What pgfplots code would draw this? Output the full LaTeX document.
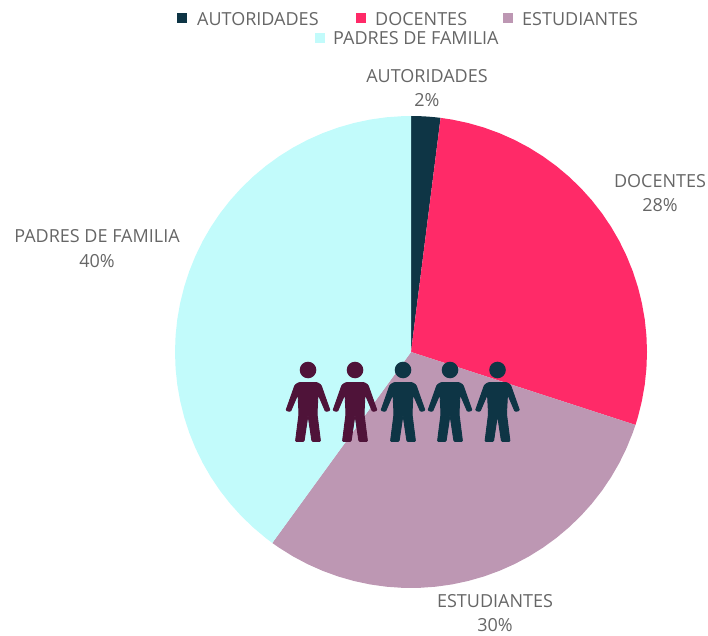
\documentclass[border=0pt]{standalone}
\usepackage{fontspec}
\usepackage{pgfplots}
\pgfplotsset{compat=1.18}
\setmainfont{Open Sans}
\definecolor{cAut}{HTML}{0E3545}
\definecolor{cDoc}{HTML}{FF2A68}
\definecolor{cEst}{HTML}{BD97B3}
\definecolor{cPad}{HTML}{C2FBFB}
\definecolor{cMar}{HTML}{4F1339}
\definecolor{cTxt}{HTML}{666666}
% icon: one person, #1 = centre x, #2 = colour
\newcommand{\person}[2]{%
  \begin{scope}[shift={(axis cs:#1,-18)},x=1pt,y=-1pt]
    \fill[#2] (0,0) circle (8.3);
    \filldraw[#2,line width=0.9pt,line join=round,rounded corners=1pt] (0,12.5) -- (9,12.5) -- (13,15) -- (22,40.5) -- (17.5,41.5)
      -- (10,24) -- (9,44) -- (12.5,71.5) -- (4,71.5) -- (0,45)
      -- (-4,71.5) -- (-12.5,71.5) -- (-9,44) -- (-10,24) -- (-17.5,41.5)
      -- (-22,40.5) -- (-13,15) -- (-9,12.5) -- cycle;
  \end{scope}}
\tikzset{lab/.style={font=\fontsize{18}{21}\selectfont, text=cTxt, inner sep=0pt}}
\begin{document}
\begin{tikzpicture}
\begin{axis}[
    x=1pt, y=1pt,
    xmin=-411, xmax=297,
    ymin=-283, ymax=352,
    hide axis,
    clip=false,
    data cs=polar,
]
\path[use as bounding box] (rel axis cs:0,0) rectangle (rel axis cs:1,1);
% AUTORIDADES 2%
\addplot[fill=cAut, draw=none] coordinates {
    (0,0) (90,236) (88,236) (86,236) (84,236) (82.8,236) (0,0)
};
% DOCENTES 28%
\addplot[fill=cDoc, draw=none] coordinates {
    (0,0) (82.8,236) (80,236) (76,236) (72,236) (68,236) (64,236) (60,236) (56,236)
    (52,236) (48,236) (44,236) (40,236) (36,236) (32,236) (28,236) (24,236) (20,236)
    (16,236) (12,236) (8,236) (4,236) (0,236) (-4,236) (-8,236) (-12,236) (-16,236)
    (-18,236) (0,0)
};
% ESTUDIANTES 30%
\addplot[fill=cEst, draw=none] coordinates {
    (0,0) (-18,236) (-20,236) (-24,236) (-28,236) (-32,236) (-36,236) (-40,236) (-44,236)
    (-48,236) (-52,236) (-56,236) (-60,236) (-64,236) (-68,236) (-72,236) (-76,236)
    (-80,236) (-84,236) (-88,236) (-92,236) (-96,236) (-100,236) (-104,236) (-108,236)
    (-112,236) (-116,236) (-120,236) (-124,236) (-126,236) (0,0)
};
% PADRES DE FAMILIA 40%
\addplot[fill=cPad, draw=none] coordinates {
    (0,0) (-126,236) (-128,236) (-132,236) (-136,236) (-140,236) (-144,236) (-148,236)
    (-152,236) (-156,236) (-160,236) (-164,236) (-168,236) (-172,236) (-176,236)
    (-180,236) (-184,236) (-188,236) (-192,236) (-196,236) (-200,236) (-204,236)
    (-208,236) (-212,236) (-216,236) (-220,236) (-224,236) (-228,236) (-232,236)
    (-236,236) (-240,236) (-244,236) (-248,236) (-252,236) (-256,236) (-260,236)
    (-264,236) (-268,236) (-270,236) (0,0)
};
% people
\person{-103}{cMar}
\person{-56}{cMar}
\person{-8}{cAut}
\person{39}{cAut}
\person{86.5}{cAut}
% data labels
\node[lab] at (axis cs:16,276) {AUTORIDADES};
\node[lab] at (axis cs:16,252) {2\%};
\node[lab] at (axis cs:249,171) {DOCENTES};
\node[lab] at (axis cs:249,147) {28\%};
\node[lab] at (axis cs:-314,116) {PADRES DE FAMILIA};
\node[lab] at (axis cs:-314,91) {40\%};
\node[lab] at (axis cs:84,-249) {ESTUDIANTES};
\node[lab] at (axis cs:84,-273) {30\%};
% legend
\addplot[data cs=cart, only marks, mark=square*, mark size=4.6pt, cAut] coordinates {(-229,334)};
\addplot[data cs=cart, only marks, mark=square*, mark size=4.6pt, cDoc] coordinates {(-50.5,334)};
\addplot[data cs=cart, only marks, mark=square*, mark size=4.6pt, cEst] coordinates {(96.5,334)};
\addplot[data cs=cart, only marks, mark=square*, mark size=4.6pt, cPad] coordinates {(-91.5,314)};
\node[lab,anchor=west] at (axis cs:-214,333) {AUTORIDADES};
\node[lab,anchor=west] at (axis cs:-36,333) {DOCENTES};
\node[lab,anchor=west] at (axis cs:111,333) {ESTUDIANTES};
\node[lab,anchor=west] at (axis cs:-78,314) {PADRES DE FAMILIA};
\end{axis}
\end{tikzpicture}
\end{document}
